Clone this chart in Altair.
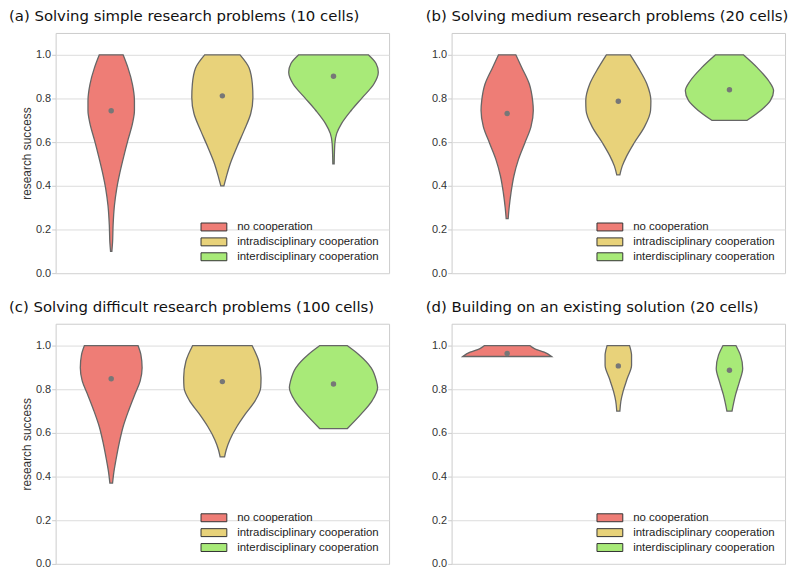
import altair as alt
import pandas as pd

groups = ["no cooperation", "intradisciplinary cooperation", "interdisciplinary cooperation"]
colors = ["#ee7d76", "#e8d27a", "#a8ea78"]

titles = [
    "(a) Solving simple research problems (10 cells)",
    "(b) Solving medium research problems (20 cells)",
    "(c) Solving difficult research problems (100 cells)",
    "(d) Building on an existing solution (20 cells)",
]

# violin outlines: success value (y) and half-width of the density (in category units)
a_no_y = [1.0, 0.94, 0.865, 0.79, 0.745, 0.685, 0.61, 0.535, 0.46, 0.385, 0.31, 0.22, 0.14, 0.10]
a_no_w = [0.107, 0.151, 0.191, 0.209, 0.209, 0.191, 0.151, 0.113, 0.078, 0.049, 0.029, 0.017, 0.012, 0.006]
a_intra_y = [1.0, 0.94, 0.865, 0.805, 0.73, 0.655, 0.58, 0.50, 0.44, 0.40]
a_intra_w = [0.159, 0.241, 0.270, 0.275, 0.255, 0.197, 0.133, 0.070, 0.035, 0.014]
a_inter_y = [1.0, 0.96, 0.92, 0.865, 0.805, 0.745, 0.685, 0.64, 0.594, 0.5]
a_inter_w = [0.313, 0.383, 0.403, 0.362, 0.261, 0.159, 0.072, 0.029, 0.012, 0.006]

b_no_y = [1.0, 0.94, 0.865, 0.79, 0.745, 0.67, 0.596, 0.52, 0.446, 0.37, 0.296, 0.25]
b_no_w = [0.078, 0.133, 0.200, 0.229, 0.235, 0.214, 0.159, 0.101, 0.061, 0.035, 0.017, 0.009]
b_intra_y = [1.0, 0.94, 0.865, 0.79, 0.745, 0.67, 0.596, 0.536, 0.49, 0.45]
b_intra_w = [0.107, 0.180, 0.258, 0.293, 0.290, 0.235, 0.142, 0.075, 0.035, 0.014]
b_inter_y = [1.0, 0.94, 0.88, 0.835, 0.79, 0.745, 0.70]
b_inter_w = [0.125, 0.252, 0.354, 0.397, 0.368, 0.281, 0.159]

c_no_y = [1.0, 0.958, 0.898, 0.838, 0.778, 0.703, 0.628, 0.553, 0.477, 0.417, 0.37]
c_no_w = [0.241, 0.267, 0.278, 0.261, 0.214, 0.157, 0.107, 0.072, 0.043, 0.023, 0.012]
c_intra_y = [1.0, 0.928, 0.853, 0.808, 0.748, 0.688, 0.628, 0.568, 0.523, 0.49]
c_intra_w = [0.267, 0.328, 0.348, 0.345, 0.296, 0.209, 0.130, 0.067, 0.035, 0.020]
c_inter_y = [1.0, 0.958, 0.898, 0.838, 0.808, 0.748, 0.688, 0.62]
c_inter_w = [0.122, 0.229, 0.339, 0.386, 0.397, 0.348, 0.252, 0.125]

d_no_y = [1.0, 0.985, 0.97, 0.95]
d_no_w = [0.203, 0.249, 0.333, 0.400]
d_intra_y = [1.0, 0.955, 0.91, 0.85, 0.79, 0.745, 0.70]
d_intra_w = [0.101, 0.119, 0.119, 0.081, 0.043, 0.023, 0.014]
d_inter_y = [1.0, 0.955, 0.895, 0.835, 0.775, 0.70]
d_inter_w = [0.058, 0.099, 0.119, 0.090, 0.055, 0.023]

# mean research success per group
a_means = [0.744, 0.812, 0.902]
b_means = [0.731, 0.787, 0.840]
c_means = [0.848, 0.835, 0.824]
d_means = [0.964, 0.907, 0.887]

panels = [
    [(a_no_y, a_no_w), (a_intra_y, a_intra_w), (a_inter_y, a_inter_w)],
    [(b_no_y, b_no_w), (b_intra_y, b_intra_w), (b_inter_y, b_inter_w)],
    [(c_no_y, c_no_w), (c_intra_y, c_intra_w), (c_inter_y, c_inter_w)],
    [(d_no_y, d_no_w), (d_intra_y, d_intra_w), (d_inter_y, d_inter_w)],
]
means = [a_means, b_means, c_means, d_means]
title_dx = [-47, -26, -47, -26]

LABEL_FONT = "Liberation Sans"


def panel(i):
    rows = []
    for gi, (ys, ws) in enumerate(panels[i]):
        for y, w in zip(ys, ws):
            rows.append({"group": groups[gi], "gi": gi, "y": y, "hw": w})
    vdf = pd.DataFrame(rows)
    mdf = pd.DataFrame({"group": groups, "gi": [0, 1, 2], "mean": means[i]})

    xscale = alt.Scale(domain=[-0.5, 2.5], nice=False, zero=False)
    yscale = alt.Scale(domain=[0, 1.1], nice=False)
    yaxis = alt.Axis(
        values=[0, 0.2, 0.4, 0.6, 0.8, 1.0], format=".1f",
        title="research success" if i in (0, 2) else None,
        grid=True, gridColor="#dcdcdc", gridWidth=1,
        ticks=True, tickSize=4, tickColor="#cccccc", domain=False,
        labelFont=LABEL_FONT, labelFontSize=11, labelColor="#333333", labelPadding=1,
        titleFont=LABEL_FONT, titleFontSize=12, titleFontWeight="normal",
        titleColor="#333333", titlePadding=2,
    )

    violins = alt.Chart(vdf).transform_calculate(
        lo="datum.gi - datum.hw", hi="datum.gi + datum.hw"
    ).mark_area(
        orient="horizontal", interpolate="monotone", stroke="#666666", strokeWidth=1.3, opacity=1
    ).encode(
        y=alt.Y("y:Q", scale=yscale, axis=yaxis),
        x=alt.X("lo:Q", scale=xscale, axis=None),
        x2="hi:Q",
        color=alt.Color(
            "group:N",
            scale=alt.Scale(domain=groups, range=colors),
            legend=alt.Legend(
                title=None, orient="bottom-right", offset=10, padding=0,
                symbolType="M-1.625,-0.5H1.625V0.5H-1.625Z", symbolSize=256,
                symbolStrokeColor="#333333", symbolStrokeWidth=1, symbolOpacity=1,
                labelFont=LABEL_FONT, labelFontSize=11.5, labelColor="#222222",
                labelOffset=15, rowPadding=0, labelLimit=300,
            ),
        ),
        detail="group:N",
    )

    dots = alt.Chart(mdf).mark_circle(size=30, color="#777777", opacity=1).encode(
        x=alt.X("gi:Q", scale=xscale, axis=None),
        y=alt.Y("mean:Q", scale=yscale, axis=yaxis),
    )

    return alt.layer(violins, dots).properties(
        width=336, height=242,
        title=alt.TitleParams(
            titles[i], anchor="start", frame="group", dx=title_dx[i], font="DejaVu Sans",
            fontSize=15, fontWeight="normal", color="#111111", offset=9,
        ),
    )


row1 = alt.hconcat(panel(0), panel(1), spacing=35).resolve_legend(color="independent").resolve_scale(color="independent")
row2 = alt.hconcat(panel(2), panel(3), spacing=35).resolve_legend(color="independent").resolve_scale(color="independent")
chart = alt.vconcat(row1, row2, spacing=20).resolve_legend(color="independent").resolve_scale(
    color="independent"
).configure(
    padding={"top": -2, "left": 0, "right": 0, "bottom": 0}, background="white"
).configure_view(stroke="#cccccc", strokeWidth=1)

chart.save("out.html", embed_options={"renderer": "svg", "actions": False})
